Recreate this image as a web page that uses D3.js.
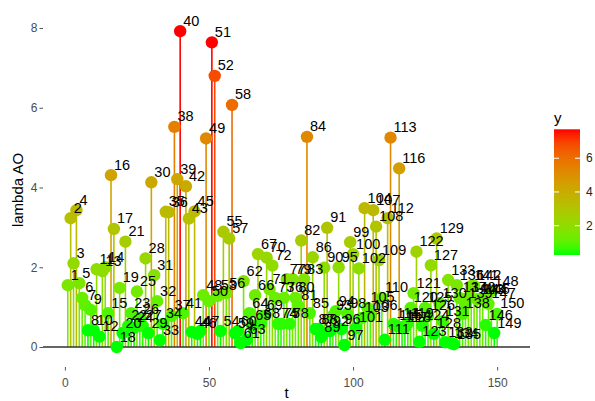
<!DOCTYPE html>
<html>
<head>
<meta charset="utf-8">
<script src="https://cdn.jsdelivr.net/npm/d3@7"></script>
<style>
  html, body { margin: 0; padding: 0; background: #fff; }
  svg { display: block; font-family: "Liberation Sans", Arial, sans-serif; }
</style>
</head>
<body>
<svg id="chart" width="595" height="401"></svg>
<script>
// Time index of each observation
const tIndex = d3.range(1, 151);

// lambda AO statistic per observation
const lambdaAO = [
  1.55, 3.23, 2.10, 3.43, 1.60, 1.23, 1.05, 0.42, 0.93, 0.42,
  1.95, 0.26, 1.90, 2.00, 0.85, 4.31, 2.96, 0.00, 1.48, 0.35,
  2.64, 0.53, 0.85, 0.48, 1.39, 0.70, 0.53, 2.22, 0.35, 4.13,
  1.80, 1.15, 0.17, 0.58, 3.39, 3.38, 0.78, 5.52, 4.21, 7.92,
  0.85, 4.03, 3.22, 0.38, 3.40, 0.33, 0.40, 1.30, 5.23, 1.15,
  7.64, 6.80, 1.28, 0.40, 2.89, 1.35, 2.72, 6.07, 0.35, 0.40,
  0.10, 1.65, 0.18, 0.85, 0.53, 1.30, 2.33, 0.58, 0.78, 2.24,
  1.45, 2.04, 1.23, 0.58, 0.58, 1.23, 1.70, 0.58, 1.70, 1.23,
  1.03, 2.67, 1.70, 5.27, 0.85, 2.25, 0.45, 0.45, 0.25, 1.99,
  2.99, 0.40, 0.78, 0.90, 2.00, 0.45, 0.05, 0.83, 2.63, 2.33,
  0.48, 1.97, 0.73, 3.48, 0.98, 0.78, 3.43, 3.02, 2.18, 1.23,
  0.18, 3.23, 5.25, 0.58, 0.53, 4.48, 0.50, 0.50, 0.60, 0.98,
  1.35, 2.39, 0.13, 0.53, 0.98, 0.78, 2.05, 0.33, 2.72, 1.10,
  0.65, 0.12, 1.68, 0.10, 0.07, 1.55, 1.23, 0.83, 1.08, 1.23,
  1.53, 1.53, 1.20, 1.20, 1.20, 0.55, 1.08, 1.40, 0.35, 0.83
];

// Axis tick values
const xTicks = [0, 50, 100, 150];
const yTicks = [0, 2, 4, 6, 8];
const legendTicks = [2, 4, 6];

const data = tIndex.map((t, i) => ({ t, v: lambdaAO[i] }));

const svg = d3.select("#chart");

// Panel geometry
const panel = { left: 43, right: 530, top: 8, bottom: 367 };

const x = d3.scaleLinear().domain([-7.6, 161.4]).range([panel.left, panel.right]);
const y = d3.scaleLinear().domain([0, 8]).range([347, 28]);

// Green-to-red gradient, interpolated in Lab space
const colorDomain = [0.45, 7.53];
const color = d3.scaleLinear()
  .domain(colorDomain)
  .range(["#00ff00", "#ff0000"])
  .interpolate(d3.interpolateLab)
  .clamp(true);

// Stems
svg.append("g")
  .selectAll("line")
  .data(data)
  .join("line")
  .attr("x1", d => x(d.t)).attr("x2", d => x(d.t))
  .attr("y1", y(0)).attr("y2", d => y(d.v))
  .attr("stroke", d => color(d.v))
  .attr("stroke-width", 1.6);

// Baseline at zero
svg.append("line")
  .attr("x1", panel.left).attr("x2", panel.right)
  .attr("y1", y(0)).attr("y2", y(0))
  .attr("stroke", "#333333")
  .attr("stroke-width", 1.6);

// Heads
svg.append("g")
  .selectAll("circle")
  .data(data)
  .join("circle")
  .attr("cx", d => x(d.t))
  .attr("cy", d => y(d.v))
  .attr("r", 6.2)
  .attr("fill", d => color(d.v));

// Index labels
svg.append("g")
  .selectAll("text")
  .data(data)
  .join("text")
  .attr("x", d => x(d.t) + 3)
  .attr("y", d => y(d.v) - 5.5)
  .attr("font-size", 14.5)
  .attr("fill", "#000")
  .text(d => d.t);

// X axis
const xAxis = svg.append("g")
  .attr("transform", `translate(0,${panel.bottom})`)
  .call(d3.axisBottom(x).tickValues(xTicks).tickSize(3.5).tickPadding(8));
// Y axis
const yAxis = svg.append("g")
  .attr("transform", `translate(${panel.left},0)`)
  .call(d3.axisLeft(y).tickValues(yTicks).tickSize(3.5).tickPadding(2));

[xAxis, yAxis].forEach(g => {
  g.select(".domain").remove();
  g.selectAll(".tick line").attr("stroke", "#555").attr("stroke-width", 1);
  g.selectAll(".tick text")
    .attr("fill", "#4d4d4d")
    .attr("font-size", 12)
    .attr("font-family", "'Liberation Sans', Arial, sans-serif");
});

// Axis titles
svg.append("text")
  .attr("x", (panel.left + panel.right) / 2)
  .attr("y", 398)
  .attr("text-anchor", "middle")
  .attr("font-size", 15)
  .text("t");

svg.append("text")
  .attr("transform", "translate(23,190) rotate(-90)")
  .attr("text-anchor", "middle")
  .attr("font-size", 15)
  .text("lambda AO");

// Colour bar legend
const bar = { x: 554, w: 26, top: 129.3, bottom: 255 };
const nbin = 20;
const inset = (bar.bottom - bar.top) / (2 * nbin);
const legendY = d3.scaleLinear()
  .domain(colorDomain)
  .range([bar.bottom - inset, bar.top + inset]);

const defs = svg.append("defs");
const grad = defs.append("linearGradient")
  .attr("id", "ybar")
  .attr("x1", 0).attr("x2", 0).attr("y1", 1).attr("y2", 0);
d3.range(0, 1.0001, 0.05).forEach(f => {
  const yy = bar.bottom - f * (bar.bottom - bar.top);
  grad.append("stop")
    .attr("offset", f)
    .attr("stop-color", color(legendY.invert(yy)));
});

svg.append("rect")
  .attr("x", bar.x).attr("y", bar.top)
  .attr("width", bar.w).attr("height", bar.bottom - bar.top)
  .attr("fill", "url(#ybar)");

const lt = svg.append("g");
legendTicks.forEach(v => {
  const yy = legendY(v);
  lt.append("line")
    .attr("x1", bar.x).attr("x2", bar.x + 5)
    .attr("y1", yy).attr("y2", yy)
    .attr("stroke", "#fff").attr("stroke-width", 1);
  lt.append("line")
    .attr("x1", bar.x + bar.w - 5).attr("x2", bar.x + bar.w)
    .attr("y1", yy).attr("y2", yy)
    .attr("stroke", "#fff").attr("stroke-width", 1);
  lt.append("text")
    .attr("x", bar.x + bar.w + 6)
    .attr("y", yy)
    .attr("dy", "0.35em")
    .attr("font-size", 12)
    .attr("fill", "#222")
    .text(v);
});

svg.append("text")
  .attr("x", bar.x)
  .attr("y", 123)
  .attr("font-size", 15)
  .text("y");
</script>
</body>
</html>
